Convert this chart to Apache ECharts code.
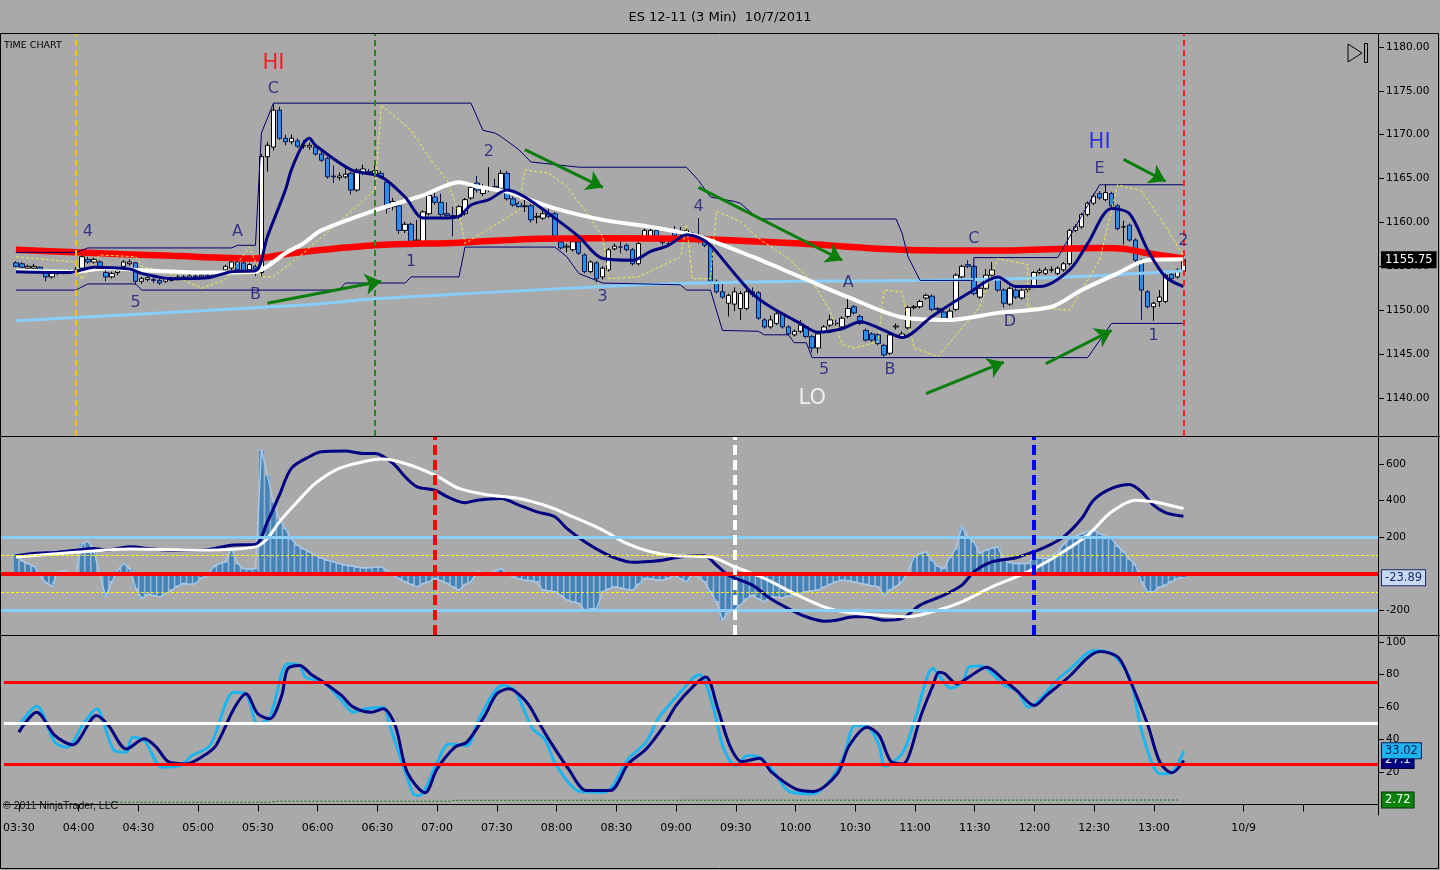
<!DOCTYPE html>
<html><head><meta charset="utf-8">
<script src="https://cdn.jsdelivr.net/npm/echarts@6/dist/echarts.min.js"></script>
<style>html,body{margin:0;padding:0;background:#A9A9A9;}#chart{width:1440px;height:870px;}</style>
</head><body><div id="chart"></div>
<script>
// ---------- axis / categories ----------
const sessionStart = '03:24';
const barMinutes = 3;
const barCount = 230;
const firstBar = 2;
const xTickTimes = ['03:30','04:00','04:30','05:00','05:30','06:00','06:30','07:00','07:30','08:00','08:30','09:00','09:30','10:00','10:30','11:00','11:30','12:00','12:30','13:00','13:45','14:15'];
const xTickText  = ['03:30','04:00','04:30','05:00','05:30','06:00','06:30','07:00','07:30','08:00','08:30','09:00','09:30','10:00','10:30','11:00','11:30','12:00','12:30','13:00','10/9',''];
const priceTicks = [1140,1145,1150,1155,1160,1165,1170,1175,1180];
const macdTicks = [600,400,200,-200];
const stochTicks = [100,80,60,40,20];

// ---------- price bars [open, close, low, high], bar 2 .. 197 ----------
const candles = [
[1155.4,1155.0,1154.9,1155.6],[1155.3,1154.9,1154.8,1155.5],[1154.8,1155.0,1154.6,1155.2],[1154.8,1155.0,1154.7,1155.3],
[1154.9,1154.6,1154.4,1155.0],[1154.3,1153.8,1153.3,1154.5],[1153.8,1154.2,1153.6,1154.4],[1154.2,1154.4,1154.0,1154.6],
[1154.4,1154.3,1154.1,1154.6],[1154.3,1154.5,1154.2,1154.7],[1154.5,1154.6,1154.2,1154.9],[1154.8,1156.1,1154.6,1156.3],
[1155.8,1155.5,1155.3,1156.1],[1155.5,1155.8,1155.3,1156.0],[1155.5,1155.0,1154.7,1155.7],[1154.3,1153.8,1153.3,1154.6],
[1153.8,1154.2,1153.6,1154.4],[1154.3,1154.5,1154.0,1154.8],[1155.0,1155.5,1154.9,1155.7],[1155.3,1155.5,1155.1,1155.8],
[1155.4,1153.3,1152.9,1155.5],[1153.3,1153.6,1153.0,1153.8],[1153.5,1153.7,1153.3,1153.9],[1153.5,1153.4,1153.1,1153.7],
[1153.4,1153.1,1152.9,1153.6],[1153.3,1153.6,1153.1,1153.8],[1153.4,1153.6,1153.3,1153.8],[1153.6,1153.8,1153.4,1154.0],
[1153.8,1153.7,1153.5,1154.0],[1153.7,1153.9,1153.5,1154.1],[1153.9,1153.8,1153.6,1154.1],[1153.8,1154.0,1153.6,1154.2],
[1154.0,1153.9,1153.7,1154.2],[1153.9,1154.1,1153.7,1154.3],[1154.1,1154.3,1153.9,1154.5],[1154.6,1155.0,1154.4,1155.2],
[1154.8,1155.5,1154.6,1155.7],[1155.5,1154.6,1154.4,1155.7],[1155.4,1154.5,1154.3,1155.6],[1154.6,1155.2,1154.4,1155.4],
[1155.0,1154.7,1153.9,1155.2],[1154.3,1167.5,1153.8,1167.8],[1167.5,1168.8,1165.8,1169.2],[1168.6,1172.8,1168.2,1173.6],
[1172.8,1169.6,1169.4,1173.2],[1169.6,1169.2,1168.8,1170.0],[1169.2,1169.6,1168.9,1170.0],[1169.3,1168.7,1168.5,1169.6],
[1168.7,1168.8,1168.4,1169.4],[1168.6,1168.8,1168.3,1169.1],[1168.6,1167.8,1167.6,1169.0],[1167.8,1167.1,1166.9,1168.1],
[1167.3,1165.2,1165.0,1167.5],[1165.3,1165.2,1164.5,1166.5],[1165.1,1165.3,1164.8,1165.7],[1165.2,1165.5,1165.0,1166.4],
[1165.6,1163.7,1163.2,1165.8],[1163.7,1166.0,1163.5,1166.2],[1165.7,1166.1,1165.4,1166.6],[1165.8,1165.7,1165.4,1166.1],
[1165.4,1165.9,1165.2,1166.8],[1165.6,1165.2,1165.0,1165.9],[1164.6,1161.6,1161.0,1165.0],[1161.8,1162.4,1161.4,1162.8],
[1161.9,1159.1,1158.7,1162.2],[1159.1,1159.8,1158.8,1160.1],[1159.8,1157.8,1157.5,1160.0],[1157.9,1158.0,1157.6,1160.3],
[1157.8,1161.2,1157.6,1161.4],[1161.0,1163.1,1160.8,1163.3],[1162.9,1162.3,1162.0,1163.4],[1162.3,1160.9,1160.6,1163.3],
[1161.0,1160.8,1160.5,1162.3],[1160.8,1160.7,1158.4,1161.8],[1160.7,1161.8,1160.4,1162.0],[1161.0,1162.6,1160.8,1162.8],
[1162.8,1164.0,1162.6,1164.2],[1164.5,1163.7,1163.4,1165.3],[1163.3,1164.1,1163.0,1164.4],[1163.8,1164.0,1163.5,1166.3],
[1164.1,1164.0,1163.7,1165.0],[1163.9,1165.6,1163.7,1166.0],[1165.6,1162.7,1162.5,1165.9],[1162.7,1162.0,1161.8,1163.0],
[1162.2,1161.8,1161.6,1162.4],[1161.8,1161.9,1161.2,1162.6],[1161.9,1160.3,1160.0,1162.1],[1160.6,1160.7,1159.9,1161.1],
[1160.5,1161.0,1160.3,1161.3],[1161.0,1160.7,1160.5,1161.6],[1161.0,1158.4,1158.2,1161.2],[1157.8,1157.1,1156.9,1158.1],
[1157.2,1157.3,1156.6,1157.6],[1156.9,1157.8,1156.7,1158.0],[1157.8,1156.5,1156.3,1158.0],[1156.3,1154.4,1154.2,1156.5],
[1154.4,1155.5,1154.2,1155.7],[1155.4,1153.6,1153.2,1155.6],[1153.8,1154.8,1153.5,1155.0],[1154.6,1156.9,1154.4,1157.1],
[1157.0,1157.3,1156.8,1157.6],[1157.2,1157.2,1156.5,1157.8],[1157.4,1156.9,1156.7,1157.6],[1156.9,1155.3,1155.1,1157.1],
[1155.3,1157.6,1155.1,1157.8],[1158.2,1159.1,1158.0,1159.3],[1158.3,1159.1,1158.1,1159.6],[1159.1,1158.2,1158.0,1159.4],
[1157.8,1157.7,1157.4,1158.2],[1157.6,1157.6,1157.3,1158.4],[1159.1,1158.5,1158.3,1159.6],[1158.7,1159.1,1158.5,1159.5],
[1158.5,1159.1,1158.3,1159.4],[1158.4,1158.4,1158.1,1158.9],[1158.0,1158.0,1157.6,1160.5],[1158.2,1157.4,1157.2,1158.5],
[1157.4,1153.3,1153.1,1157.6],[1153.3,1152.1,1151.9,1153.5],[1152.1,1151.5,1151.3,1153.0],[1150.8,1151.7,1149.3,1151.9],
[1150.7,1152.1,1149.9,1152.6],[1150.2,1151.9,1148.9,1152.2],[1150.2,1152.1,1150.0,1152.6],[1152.1,1151.8,1151.5,1152.6],
[1152.0,1149.1,1148.9,1152.2],[1148.9,1148.1,1147.9,1149.1],[1148.1,1148.9,1147.9,1149.4],[1148.5,1149.6,1148.3,1149.8],
[1149.6,1148.1,1147.9,1149.8],[1148.1,1147.3,1147.1,1148.3],[1147.2,1147.6,1147.0,1147.8],[1147.6,1148.3,1147.4,1148.9],
[1148.1,1147.0,1146.8,1148.3],[1147.0,1145.7,1145.2,1147.2],[1145.7,1147.3,1145.1,1147.5],[1147.6,1148.1,1147.4,1148.3],
[1148.3,1148.9,1148.1,1149.5],[1148.5,1148.5,1148.2,1148.9],[1148.1,1149.1,1147.9,1149.3],[1149.3,1150.2,1149.1,1151.4],
[1150.4,1149.7,1149.5,1150.6],[1149.3,1148.5,1148.3,1149.5],[1147.7,1146.6,1146.4,1147.9],[1147.3,1146.6,1146.4,1147.5],
[1147.2,1146.2,1146.0,1147.4],[1146.0,1144.9,1144.7,1146.2],[1145.1,1147.2,1144.9,1147.4],[1148.1,1148.2,1147.8,1148.5],
[1147.0,1147.3,1146.8,1147.6],[1148.0,1150.3,1147.8,1150.5],[1150.3,1150.4,1150.1,1150.6],[1150.4,1151.0,1150.2,1151.2],
[1151.4,1151.7,1151.2,1151.9],[1151.6,1150.1,1149.9,1151.8],[1150.2,1150.1,1149.9,1150.4],[1149.8,1149.1,1148.9,1150.0],
[1149.0,1149.9,1148.7,1150.2],[1150.1,1154.0,1149.9,1154.2],[1153.8,1155.0,1153.6,1155.2],[1155.2,1155.0,1154.8,1155.7],
[1155.0,1151.9,1151.7,1155.2],[1151.5,1152.5,1151.3,1152.7],[1152.5,1154.0,1152.3,1154.7],[1154.0,1154.6,1153.8,1155.5],
[1153.6,1152.3,1152.1,1153.8],[1152.3,1150.8,1150.3,1152.5],[1150.7,1152.5,1150.5,1152.7],[1152.3,1151.5,1151.3,1152.5],
[1151.4,1152.3,1151.2,1152.5],[1152.4,1152.4,1152.0,1153.0],[1152.7,1154.3,1152.5,1154.5],[1154.3,1154.5,1154.1,1154.8],
[1154.2,1154.6,1154.0,1154.9],[1154.6,1154.6,1154.3,1155.0],[1154.2,1154.8,1154.0,1155.0],[1154.6,1155.3,1154.4,1155.5],
[1155.3,1159.1,1155.1,1159.3],[1159.1,1159.5,1158.9,1159.8],[1159.5,1160.9,1159.3,1161.1],[1160.9,1162.2,1160.7,1162.4],
[1162.2,1163.0,1162.0,1163.3],[1163.3,1162.8,1162.6,1163.6],[1162.6,1163.4,1162.4,1164.3],[1163.3,1161.9,1161.7,1163.5],
[1161.9,1159.3,1159.1,1162.1],[1159.5,1159.5,1157.5,1160.2],[1159.7,1158.0,1157.8,1159.9],[1158.0,1155.7,1155.5,1158.2],
[1155.7,1152.3,1148.9,1155.9],[1152.1,1150.4,1150.2,1152.3],[1150.4,1150.8,1148.8,1151.0],[1151.0,1151.5,1150.4,1152.3],
[1151.0,1154.0,1150.8,1154.2],[1154.1,1153.6,1153.4,1154.3],[1153.8,1154.6,1153.6,1154.8],[1154.4,1155.75,1154.2,1156.0]
];

// ---------- price overlays [bar, price] ----------
const redMA = [[2,1156.9],[12,1156.6],[28,1156.2],[42,1155.9],[48,1156.5],[62,1157.4],[76,1157.7],[87,1158.1],[100,1158.2],[116,1158.1],[133,1157.6],[150,1156.9],[166,1156.8],[183,1157.1],[187,1157.0],[191,1156.5],[197,1155.9]];
const whiteMA = [[2,1154.5],[12,1154.4],[17,1154.8],[22,1154.6],[33,1154.3],[42,1154.4],[44,1155.0],[47,1156.5],[50,1157.6],[53,1159.1],[62,1161.4],[70,1163.1],[76,1164.6],[79,1164.1],[84,1163.5],[92,1161.6],[100,1160.3],[108,1159.5],[116,1158.4],[125,1156.1],[133,1153.8],[141,1151.5],[150,1149.2],[158,1148.9],[166,1149.7],[175,1150.4],[180,1152.3],[186,1154.2],[191,1155.7],[197,1155.8]];
const navyMA = [[2,1154.4],[11,1154.3],[15,1154.9],[21,1154.7],[23,1154.2],[28,1153.6],[34,1153.7],[38,1154.4],[42,1154.5],[44,1158.4],[47,1163.7],[48,1166.0],[50,1169.0],[51,1169.6],[52,1168.8],[58,1166.0],[63,1165.2],[67,1162.9],[70,1160.5],[73,1160.5],[76,1160.7],[78,1162.0],[81,1162.6],[84,1163.7],[87,1162.9],[92,1160.5],[96,1158.4],[100,1155.9],[105,1155.7],[108,1156.7],[111,1157.4],[114,1158.6],[116,1158.3],[118,1157.4],[122,1154.2],[125,1151.9],[128,1150.4],[133,1148.5],[136,1147.5],[140,1147.9],[143,1148.7],[147,1147.7],[150,1146.9],[155,1149.3],[161,1151.9],[166,1153.8],[169,1152.7],[173,1152.7],[178,1154.6],[181,1157.6],[185,1161.6],[188,1161.0],[191,1156.9],[194,1153.8],[197,1152.7]];
const lightBlueMA = [[2,1148.8],[50,1150.6],[62,1151.3],[100,1152.7],[116,1153.1],[133,1153.3],[153,1153.4],[178,1153.8],[195,1154.4],[197,1154.5]];
const channelUpper = [[2,1156.6],[12,1156.6],[14,1157.1],[38,1157.1],[39,1157.4],[42,1157.4],[43,1170.2],[45,1173.6],[78,1173.6],[80,1170.5],[82,1170.2],[83,1169.8],[86,1168.3],[88,1166.9],[96,1166.3],[114,1166.3],[116,1164.8],[118,1162.9],[122,1162.4],[123,1162.2],[126,1160.4],[149,1160.4],[150,1158.8],[151,1156.1],[153,1153.4],[162,1153.4],[162,1156.0],[176,1156.0],[183,1164.3],[197,1164.3]];
const channelLower = [[2,1152.3],[12,1152.3],[14,1153.0],[22,1153.0],[23,1152.3],[56,1152.3],[57,1153.1],[67,1153.1],[68,1153.8],[76,1153.8],[77,1157.2],[92,1157.2],[94,1156.1],[96,1154.2],[100,1153.1],[113,1152.9],[114,1152.3],[118,1152.3],[120,1147.7],[126,1147.6],[127,1147.2],[131,1147.2],[132,1146.3],[134,1146.3],[135,1144.6],[181,1144.6],[185,1148.5],[197,1148.5]];
const yellowBand = [[2,1156.1],[12,1155.5],[13,1153.5],[16,1156.3],[22,1156.1],[23,1155.0],[27,1154.4],[33,1152.5],[37,1153.5],[41,1157.2],[42,1155.5],[43,1153.8],[45,1153.8],[50,1156.5],[62,1163.7],[63,1173.4],[68,1170.5],[71,1167.4],[74,1164.8],[76,1161.0],[77,1157.6],[86,1161.4],[87,1166.0],[91,1165.6],[94,1164.1],[97,1161.4],[100,1158.4],[101,1153.6],[106,1153.8],[113,1156.1],[114,1159.7],[115,1153.6],[118,1153.6],[119,1161.3],[123,1160.1],[126,1158.2],[131,1155.9],[135,1153.3],[138,1149.9],[140,1146.1],[142,1145.7],[146,1146.4],[147,1152.3],[150,1152.1],[152,1145.7],[156,1144.7],[163,1150.4],[166,1155.9],[171,1155.2],[171,1150.4],[178,1150.0],[183,1155.7],[186,1164.3],[190,1163.6],[194,1159.6],[197,1156.2]];
const greenArrows = [[44,1150.8,63,1153.3],[87,1168.3,100,1164.0],[116,1164.0,140,1155.7],[154,1140.5,167,1144.1],[174,1143.9,185,1147.7],[187,1167.2,194,1164.7]];
const waveLabels = [[45,1175.2,'C'],[39,1158.9,'A'],[42,1151.7,'B'],[14,1158.9,'4'],[22,1150.9,'5'],[68,1155.5,'1'],[81,1168.0,'2'],[100,1151.5,'3'],[116,1161.8,'4'],[141,1153.1,'A'],[137,1143.2,'5'],[148,1143.2,'B'],[162,1158.1,'C'],[168,1148.7,'D'],[183,1166.1,'E'],[197,1157.9,'2'],[192,1147.1,'1']];
const peakLabels = [[45,1178.1,'HI'],[183,1169.1,'HI']];
const troughLabels = [[135,1139.9,'LO']];
const priceMarkers = ['04:00','06:30','13:15'];
const macdMarkers = ['07:00','09:30','12:00'];

// ---------- MACD panel, bar 2 .. 197 ----------
const macdHist = [
110,70,55,40,-9,-50,-70,10,15,5,
-9,164,177,128,-9,-128,-46,20,55,27,
-82,-137,-115,-120,-128,-110,-91,-70,-55,-60,
-55,-25,-10,37,55,64,137,55,27,25,
27,677,540,393,300,247,190,155,135,119,
100,85,73,65,55,46,42,36,31,32,
35,37,15,-9,-30,-46,-60,-73,-55,-46,
-27,-40,-55,-75,-91,-60,-46,13,5,-5,
15,27,0,-18,-30,-37,-40,-46,-91,-95,
-100,-120,-146,-155,-164,-201,-195,-192,-100,-85,
-73,-80,-88,-91,-60,-27,-30,-35,-37,-25,
-9,-30,-46,0,-20,-46,-100,-155,-256,-210,
-200,-173,-140,-119,-140,-155,-128,-130,-133,-125,
-119,-110,-100,-95,-91,-75,-60,-45,-37,-40,
-46,-55,-60,-68,-73,-119,-91,-70,-46,9,
91,110,119,73,40,27,90,137,256,200,
173,110,128,140,146,73,60,55,55,55,
91,85,82,100,119,160,192,205,219,230,
238,219,205,192,150,119,80,46,-46,-100,
-100,-75,-64,-45,-27,-23.89];
const macdLine = [[2,97],[5,110],[9,116],[12,128],[15,137],[17,128],[21,146],[25,134],[28,128],[33,128],[38,155],[42,159],[44,283],[46,430],[48,576],[51,640],[53,667],[57,671],[60,658],[62,658],[65,603],[67,530],[69,475],[72,457],[74,421],[77,388],[79,402],[83,411],[86,375],[89,338],[92,311],[94,247],[97,174],[100,116],[102,86],[105,61],[107,64],[110,73],[112,86],[115,97],[117,97],[119,46],[121,-9],[125,-64],[128,-137],[131,-192],[134,-237],[137,-261],[139,-256],[142,-237],[144,-237],[147,-256],[150,-247],[153,-173],[157,-119],[160,-64],[162,9],[165,64],[169,86],[172,119],[174,146],[177,201],[180,301],[182,402],[185,466],[188,488],[190,448],[192,375],[194,334],[197,314]];
const signalLine = [[2,91],[12,116],[21,134],[33,128],[42,146],[44,192],[46,283],[49,393],[52,494],[56,576],[60,612],[63,627],[67,603],[72,539],[76,466],[81,430],[86,411],[91,366],[95,311],[100,238],[104,165],[108,119],[112,97],[118,91],[122,37],[127,-27],[132,-110],[137,-183],[141,-214],[146,-228],[151,-237],[155,-210],[160,-155],[165,-73],[171,9],[176,100],[181,210],[185,338],[189,402],[192,393],[197,356]];
const macdLevels = [0,200,-200,100,-100];

// ---------- stochastic panel ----------
const stochD = [[2,44.5],[5,56.8],[8,42.5],[11,36.7],[15,54.7],[17,48.6],[20,34.2],[23,40.4],[25,35.3],[27,26.4],[30,25],[33,30.1],[35,36.3],[38,58.9],[40,68.1],[42,55.8],[44,52.7],[46,67.1],[47,83.5],[49,85.6],[51,79.8],[53,75.3],[56,67.1],[58,59.9],[61,56.8],[63,58.9],[65,48.6],[67,19.9],[70,7.2],[72,21.9],[75,35.3],[77,38.4],[80,54.7],[82,68.1],[84,71.2],[87,63],[89,50.7],[91,38.4],[94,21.9],[97,8.6],[101,8.6],[104,25],[107,34.2],[110,48.6],[112,60.9],[115,73.2],[117,78.4],[119,58.9],[121,36.3],[123,26.4],[126,28.5],[128,19.9],[132,9.6],[135,8],[139,18.9],[141,36.3],[144,47.6],[146,42.5],[148,26.4],[150,25],[151,30.1],[153,54.7],[155,73.2],[156,81.4],[157,80.4],[159,74.3],[161,78.4],[164,84.5],[167,76.3],[169,70.2],[172,60.9],[174,67.1],[178,79.4],[181,90.6],[183,94.1],[186,90.6],[188,76.3],[191,48.6],[193,26],[195,19.5],[197,27.1]];
const stochK = [[2,48.6],[5,60.5],[8,38.4],[10,35.3],[13,50.7],[15,58.9],[18,33.2],[20,32.2],[21,41.4],[23,39.4],[26,22.9],[29,23.9],[31,30.1],[34,36.3],[38,69.1],[40,68.1],[42,49.6],[44,53.7],[47,86.6],[49,85.6],[50,78.4],[53,75.3],[56,64.1],[58,56.8],[60,58.9],[63,59.9],[64,49.6],[68,6.6],[69,5.5],[72,25.9],[74,37.3],[77,36.3],[79,52.7],[83,73.2],[85,70.2],[88,46.6],[90,40.4],[92,23.9],[96,8],[100,7.6],[104,28.1],[107,38.4],[109,52.7],[112,66],[115,78.4],[116,79.8],[118,63],[120,34.2],[122,23.9],[124,30.1],[126,29.1],[128,21.9],[131,8],[135,6.6],[138,15.8],[140,29.1],[142,48.6],[144,48.2],[146,36.3],[147,23.5],[150,32.2],[152,52.7],[155,83.9],[156,79.4],[158,71.6],[160,75.3],[161,84.5],[163,85.2],[167,73.2],[169,70.2],[171,59.9],[176,77.4],[178,83.5],[182,94.8],[185,92.7],[188,77.4],[190,44.5],[193,18.9],[195,19.9],[197,33.02]];
const stochBase = [[17,1.4],[44,1.4],[45,2.0],[74,2.0],[75,2.6],[196,2.72]];
const stochLevels = [75,25,50];

// ---------- build ----------
const [sh, sm] = sessionStart.split(':').map(Number);
const categories = [];
for (let i = 0; i < barCount; i++) {
  const t = sh * 60 + sm + i * barMinutes;
  categories.push(String(Math.floor(t / 60)).padStart(2, '0') + ':' + String(t % 60).padStart(2, '0'));
}
const tickMap = new Map(xTickTimes.map((t, i) => [t, xTickText[i]]));
const cat = i => categories[i];
const FONT = 'DejaVu Sans';
const last = a => a[a.length - 1];
const lastClose = last(candles)[1];

function hiddenX(gi) {
  return {type: 'category', gridIndex: gi, data: categories, boundaryGap: true,
    axisLine: {show: false}, axisTick: {show: false}, axisLabel: {show: false}, splitLine: {show: false}};
}
function rightY(gi, min, max, ticks, fmt) {
  return {type: 'value', gridIndex: gi, position: 'right', min, max,
    axisLine: {show: true, lineStyle: {color: '#000', width: 1}},
    axisTick: {show: true, length: 6, customValues: ticks, lineStyle: {color: '#000'}},
    axisLabel: {customValues: ticks, formatter: fmt, color: '#000', fontSize: 10.5, fontFamily: FONT, margin: 8},
    splitLine: {show: false}};
}
function line(name, data, color, width, xi, opts) {
  return Object.assign({type: 'line', name, data, xAxisIndex: xi, yAxisIndex: xi, symbol: 'none', silent: true,
    lineStyle: {color, width}, smooth: 0.3}, opts || {});
}
function tag(value, text, bg, fg, border) {
  return {yAxis: value, lineStyle: {color: 'rgba(0,0,0,0)', width: 0.01},
    label: {show: true, position: 'end', distance: 4, formatter: text, backgroundColor: bg, color: fg,
      borderColor: border || bg, borderWidth: 1, padding: [2, 3, 1, 3], fontSize: 11.5, fontFamily: FONT}};
}
function textSeries(arr, color, size) {
  return {type: 'scatter', xAxisIndex: 0, yAxisIndex: 0, symbolSize: 0, silent: true, z: 10,
    data: arr.map(m => ({value: [m[0], m[1]], name: m[2]})),
    label: {show: true, position: 'inside', formatter: '{b}', color, fontSize: size, fontFamily: FONT}};
}

const option = {
  backgroundColor: '#A9A9A9',
  animation: false,
  title: {text: 'ES 12-11 (3 Min)  10/7/2011', left: 'center', top: 6,
    textStyle: {fontSize: 13, fontWeight: 'normal', fontFamily: FONT, color: '#000'}},
  grid: [
    {left: 1, right: 62, top: 34, height: 402},
    {left: 1, right: 62, top: 437, height: 198},
    {left: 1, right: 62, top: 636, height: 179}
  ],
  xAxis: [hiddenX(0), hiddenX(1), {
    type: 'category', gridIndex: 2, data: categories, boundaryGap: true,
    axisLine: {show: true, lineStyle: {color: '#000', width: 1}},
    axisTick: {show: true, alignWithLabel: true, length: 7, interval: (i, v) => tickMap.has(v), lineStyle: {color: '#000'}},
    axisLabel: {interval: (i, v) => tickMap.has(v), formatter: v => tickMap.get(v) || '', color: '#000', fontSize: 11, fontFamily: FONT, margin: 8},
    splitLine: {show: false}
  }],
  yAxis: [
    rightY(0, 1135.67, 1181.48, priceTicks, v => v.toFixed(2)),
    rightY(1, -337, 748, macdTicks, v => String(v)),
    rightY(2, -6.46, 103.7, stochTicks, v => String(v))
  ],
  series: [
    // ---- price panel ----
    line('ma-red', redMA, '#FF0000', 6.5, 0, {markLine: {silent: true, symbol: ['none', 'none'], data: [
      {xAxis: priceMarkers[0], lineStyle: {color: '#F2C200', width: 2, type: [6, 4]}, label: {show: false}},
      {xAxis: priceMarkers[1], lineStyle: {color: '#1E8C1E', width: 2, type: [6, 4]}, label: {show: false}},
      {xAxis: priceMarkers[2], lineStyle: {color: '#FF2020', width: 2, type: [6, 4]}, label: {show: false}}
    ]}}),
    line('ma-lightblue', lightBlueMA, '#87CEFA', 3, 0),
    line('ch-up', channelUpper, '#00006E', 1, 0, {smooth: false}),
    line('ch-lo', channelLower, '#00006E', 1, 0, {smooth: false}),
    line('band', yellowBand, '#EEE84A', 1, 0, {smooth: false, lineStyle: {color: '#EEE84A', width: 1, type: [3, 2]}}),
    {type: 'candlestick', name: 'ES', xAxisIndex: 0, yAxisIndex: 0, silent: true, barWidth: 5,
      encode: {x: 0, y: [1, 2, 3, 4]},
      data: candles.map((c, k) => [firstBar + k, c[0], c[1], c[2], c[3]]),
      itemStyle: {color: '#FFFFFF', color0: '#2B8FE8', borderColor: '#000000', borderColor0: '#0A1450', borderWidth: 1}},
    line('ma-white', whiteMA, '#FFFFFF', 4, 0),
    line('ma-navy', navyMA, '#000080', 3, 0, {markLine: {silent: true, symbol: ['none', 'arrow'], symbolSize: 16,
      lineStyle: {color: '#0A7D0A', width: 3, type: 'solid'}, label: {show: false},
      data: greenArrows.map(a => [{coord: [cat(a[0]), a[1]]}, {coord: [cat(a[2]), a[3]]}])}}),
    line('tag-price', [], '#000', 1, 0, {markLine: {silent: true, symbol: ['none', 'none'], data: [
      tag(lastClose, lastClose.toFixed(2), '#000000', '#FFFFFF')]}}),
    textSeries(waveLabels, '#16167A', 16),
    textSeries(peakLabels.slice(0, 1), '#FF0000', 21),
    textSeries(peakLabels.slice(1), '#1010F0', 21),
    textSeries(troughLabels, '#FFFFFF', 21),
    // ---- MACD panel ----
    {type: 'bar', name: 'hist', xAxisIndex: 1, yAxisIndex: 1, silent: true, barWidth: '100%',
      data: macdHist.map((v, k) => [firstBar + k, v]),
      itemStyle: {color: '#4682B4', borderColor: '#9EC2E6', borderWidth: 0.7}},
    line('hist-edge', macdHist.map((v, k) => [firstBar + k, v]), '#A9C6E6', 1.5, 1, {smooth: false,
      markLine: {silent: true, symbol: ['none', 'none'], data: [
        {yAxis: macdLevels[3], lineStyle: {color: '#FFFF00', width: 1, type: [3, 2]}, label: {show: false}},
        {yAxis: macdLevels[4], lineStyle: {color: '#FFFF00', width: 1, type: [3, 2]}, label: {show: false}},
        {yAxis: macdLevels[1], lineStyle: {color: '#87CEFA', width: 3, type: 'solid'}, label: {show: false}},
        {yAxis: macdLevels[2], lineStyle: {color: '#87CEFA', width: 3, type: 'solid'}, label: {show: false}},
        {yAxis: macdLevels[0], lineStyle: {color: '#FF0000', width: 4, type: 'solid'}, label: {show: false}}
      ]}}),
    line('macd', macdLine, '#000080', 3, 1),
    line('signal', signalLine, '#FFFFFF', 3, 1, {markLine: {silent: true, symbol: ['none', 'none'], label: {show: false}, data: [
      {xAxis: macdMarkers[0], lineStyle: {color: '#FF0000', width: 4, type: [10, 5]}},
      {xAxis: macdMarkers[1], lineStyle: {color: '#FFFFFF', width: 4, type: [10, 5]}},
      {xAxis: macdMarkers[2], lineStyle: {color: '#0000FF', width: 4, type: [10, 5]}}
    ]}}),
    line('tag-macd', [], '#000', 1, 1, {markLine: {silent: true, symbol: ['none', 'none'], data: [
      tag(last(macdHist), last(macdHist).toFixed(2), '#C9DAF0', '#1A2A6A', '#1A2A6A')]}}),
    // ---- stochastic panel ----
    line('base', stochBase, '#0B6B0B', 1, 2, {smooth: false, lineStyle: {color: '#0B6B0B', width: 1, type: [2, 2]},
      markLine: {silent: true, symbol: ['none', 'none'], data: [
        {yAxis: stochLevels[0], lineStyle: {color: '#FF0000', width: 3, type: 'solid'}, label: {show: false}},
        {yAxis: stochLevels[1], lineStyle: {color: '#FF0000', width: 3, type: 'solid'}, label: {show: false}},
        {yAxis: stochLevels[2], lineStyle: {color: '#FFFFFF', width: 3, type: 'solid'}, label: {show: false}}
      ]}}),
    line('stochK', stochK, '#1EB4F0', 3, 2),
    line('stochD', stochD, '#000080', 3, 2),
    line('tag-stoch', [], '#000', 1, 2, {markLine: {silent: true, symbol: ['none', 'none'], data: [
      tag(last(stochBase)[1], last(stochBase)[1].toFixed(2), '#0A820A', '#FFFFFF', '#063806'),
      tag(last(stochD)[1], String(last(stochD)[1]), '#000080', '#FFFFFF', '#000040'),
      tag(last(stochK)[1], last(stochK)[1].toFixed(2), '#1EB4F0', '#0A1A50', '#0A1A50')
    ]}})
  ],
  graphic: [
    {type: 'rect', silent: true, z: 100, shape: {x: 0.5, y: 33.5, width: 1438, height: 835}, style: {fill: null, stroke: '#000', lineWidth: 1}},
    {type: 'line', silent: true, z: 100, shape: {x1: 0, y1: 436.5, x2: 1440, y2: 436.5}, style: {stroke: '#000', lineWidth: 1}},
    {type: 'line', silent: true, z: 100, shape: {x1: 0, y1: 635.5, x2: 1440, y2: 635.5}, style: {stroke: '#000', lineWidth: 1}},
    {type: 'text', silent: true, z: 100, style: {x: 4, y: 41, text: 'TIME CHART', fill: '#000', font: '9.5px "DejaVu Sans"'}},
    {type: 'text', silent: true, z: 100, style: {x: 3, y: 801, text: '\u00A9 2011 NinjaTrader, LLC', fill: '#111', font: '10.5px "Liberation Sans"'}},
    {type: 'polygon', silent: true, z: 100, shape: {points: [[1348, 44], [1362, 53], [1348, 62]]}, style: {fill: null, stroke: '#000', lineWidth: 1}},
    {type: 'rect', silent: true, z: 100, shape: {x: 1364.5, y: 43.5, width: 3, height: 19}, style: {fill: null, stroke: '#000', lineWidth: 1}}
  ]
};
const chart = echarts.init(document.getElementById('chart'));
chart.setOption(option);
</script>
</body></html>
